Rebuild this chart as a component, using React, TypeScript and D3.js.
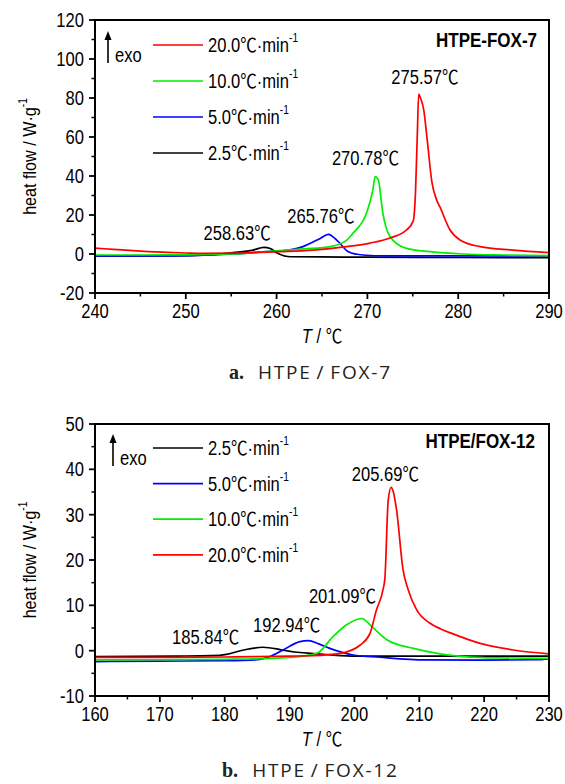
import React from "react";
import * as d3 from "d3";

const W = 565;
const H = 784;
const SX = 0.85;
const FONT = "'Liberation Sans', Arial, 'Noto Sans CJK SC', sans-serif";

type P = [number, number];

// ---------- Panel a: HTPE-FOX-7 ----------
const aRates = ["20.0", "10.0", "5.0", "2.5"];
const aColors = ["#ff0000", "#00ee00", "#0000ff", "#000000"];
const aRed: P[] = [[240, 3], [242, 2.4], [245, 1.5], [248, 0.8], [250, 0.5], [252, 0.3], [255, 0.4], [258, 0.8], [260.4, 1.2], [264, 2], [267.7, 3.8], [270.3, 5.6], [272.5, 8.2], [274.3, 12.3], [275.05, 17], [275.3, 32], [275.5, 62], [275.65, 82], [275.85, 80], [276.2, 74], [276.6, 58], [277.1, 37], [277.6, 28], [278, 24], [279.1, 12.3], [280.2, 7.2], [282.4, 3.8], [286, 2], [290, 0.7]];
const aGreen: P[] = [[240, -0.5], [245, -0.5], [250, -0.4], [255, 0], [258, 0.8], [260.4, 1.7], [263, 2.6], [265.9, 3.8], [267.7, 7], [268.4, 10.6], [269.9, 21], [270.6, 32.8], [270.85, 39.7], [271.2, 38], [271.7, 21], [272.5, 8.9], [274.3, 2.9], [276.9, 1.2], [280.5, 0], [285, -0.5], [290, -0.8]];
const aBlue: P[] = [[240, -1], [245, -1], [250, -0.9], [253, -0.5], [255.2, 0], [258.9, 1.2], [260.4, 1.5], [262.9, 3.8], [264.8, 8], [265.7, 10.1], [266.8, 6.3], [267.9, 1.2], [269.5, -0.5], [272, -1], [280, -1], [290, -1]];
const aBlack: P[] = [[240, -1], [245, -1], [250, -0.8], [253, -0.3], [255.2, 0.7], [257.4, 2], [258.6, 3.4], [259.3, 2.8], [260, 0.7], [261.5, -1.4], [265, -1.5], [270, -1.6], [280, -1.8], [290, -1.9]];
const aSeries = [aRed, aGreen, aBlue, aBlack];
const aPeakT = [275.57, 270.78, 265.76, 258.63];
const aPeakV = [82, 39.7, 10.1, 3.4];

// ---------- Panel b: HTPE/FOX-12 ----------
const bRates = ["2.5", "5.0", "10.0", "20.0"];
const bColors = ["#000000", "#0000ff", "#00ee00", "#ff0000"];
const bBlack: P[] = [[160, -1.3], [172.6, -1.2], [178, -1.1], [180.3, -0.8], [182.9, 0.15], [185.9, 0.75], [188, 0.4], [189, 0.1], [191.6, -0.4], [193.2, -0.6], [196, -0.9], [200.3, -1.2], [210, -1.2], [220, -1.2], [230, -1.2]];
const bBlue: P[] = [[160, -2.4], [170, -2.3], [180, -2.2], [185, -2], [187, -1.3], [189, 0.15], [191.6, 2], [192.9, 2.2], [194.5, 1.5], [196.2, 0.5], [199.8, -0.95], [203.9, -1.45], [211, -2.05], [220, -2.1], [228, -2], [230, -1.8]];
const bGreen: P[] = [[160, -2.05], [170, -2], [180, -1.9], [185, -1.8], [190, -1.5], [194.2, -0.6], [196.7, 3.1], [198.8, 5.7], [201.1, 7.1], [202.7, 5.3], [205, 2.4], [209.1, 0.5], [213.2, -0.7], [216.8, -1.3], [222, -1.6], [230, -1.7]];
const bRed: P[] = [[160, -1.5], [170, -1.5], [180, -1.4], [185, -1.3], [190, -1.2], [193.6, -1.1], [197.8, -0.6], [200.9, 1.25], [202.4, 3.8], [203.4, 9], [204.4, 13.4], [204.7, 16], [205.2, 33], [205.65, 36], [206.0, 35], [206.5, 31], [207.5, 17.8], [208.3, 13.4], [209.6, 9], [211.6, 6.1], [213.3, 4.8], [215.2, 3.7], [219.4, 1.6], [224.5, 0.15], [230, -0.7]];
const bSeries = [bBlack, bBlue, bGreen, bRed];
const bPeakT = [185.84, 192.94, 201.09, 205.69];
const bPeakV = [0.75, 2.2, 7.1, 36];

type Cfg = {
  id: string;
  xDomain: [number, number];
  xStep: number;
  yDomain: [number, number];
  yStep: number;
  yTop: number;
  yBottom: number;
  rates: string[];
  colors: string[];
  series: P[][];
  drawOrder: number[];
  peakT: number[];
  peakV: number[];
  peakOff: [number, number][];
  title: string;
  titleY: number;
  titleX: number;
  legendY0: number;
  legendDY: number;
  arrowX: number;
  capLetter: string;
  capText: string;
  capX: number;
  capY: number;
};

const X0 = 95;
const X1 = 549;

const NT = (props: any) => {
  const { x, y, anchor, size, weight, children, style, rotate } = props;
  return (
    <text
      transform={`translate(${x},${y})${rotate ? ` rotate(${rotate})` : ""} scale(${SX},1)`}
      textAnchor={anchor || "start"}
      fontSize={size || 19.5}
      fontWeight={weight || "normal"}
      fontFamily={FONT}
      fill="#000"
      style={style}
    >
      {children}
    </text>
  );
};

function Panel({ c }: { c: Cfg }) {
  const x = d3.scaleLinear().domain(c.xDomain).range([X0, X1]);
  const y = d3.scaleLinear().domain(c.yDomain).range([c.yBottom, c.yTop]);
  const line = d3
    .line<P>()
    .x((d) => x(d[0]))
    .y((d) => y(d[1]))
    .curve(d3.curveMonotoneX);
  const xMaj = d3.range(c.xDomain[0], c.xDomain[1] + 0.001, c.xStep);
  const xMin = d3.range(c.xDomain[0] + c.xStep / 2, c.xDomain[1], c.xStep);
  const yMaj = d3.range(c.yDomain[0], c.yDomain[1] + 0.001, c.yStep);
  const yMin = d3.range(c.yDomain[0] + c.yStep / 2, c.yDomain[1], c.yStep);
  const cy = (c.yTop + c.yBottom) / 2;
  const cx = (X0 + X1) / 2;
  return (
    <g>
      <defs>
        <clipPath id={c.id}>
          <rect x={X0} y={c.yTop} width={X1 - X0} height={c.yBottom - c.yTop} />
        </clipPath>
      </defs>
      <g clipPath={`url(#${c.id})`}>
        {c.drawOrder.map((i) => (
          <path key={i} d={line(c.series[i]) || ""} fill="none" stroke={c.colors[i]} strokeWidth={1.7} strokeLinejoin="round" />
        ))}
      </g>
      <rect x={X0} y={c.yTop} width={X1 - X0} height={c.yBottom - c.yTop} fill="none" stroke="#000" strokeWidth={2} />
      {xMaj.map((v) => (
        <g key={"xm" + v}>
          <line x1={x(v)} x2={x(v)} y1={c.yBottom} y2={c.yBottom + 6} stroke="#000" strokeWidth={1.8} />
          <NT x={x(v)} y={c.yBottom + 25} anchor="middle">{v}</NT>
        </g>
      ))}
      {xMin.map((v) => (
        <line key={"xn" + v} x1={x(v)} x2={x(v)} y1={c.yBottom} y2={c.yBottom + 3.5} stroke="#000" strokeWidth={1.5} />
      ))}
      {yMaj.map((v) => (
        <g key={"ym" + v}>
          <line x1={X0 - 6} x2={X0} y1={y(v)} y2={y(v)} stroke="#000" strokeWidth={1.8} />
          <NT x={X0 - 11} y={y(v) + 7} anchor="end">{v}</NT>
        </g>
      ))}
      {yMin.map((v) => (
        <line key={"yn" + v} x1={X0 - 3.5} x2={X0} y1={y(v)} y2={y(v)} stroke="#000" strokeWidth={1.5} />
      ))}
      {/* axis titles */}
      <NT x={36} y={cy} anchor="middle" rotate={-90} size={19}>
        heat flow / W·g<tspan fontSize={12} dy={-9}>-1</tspan>
      </NT>
      <NT x={cx} y={c.yBottom + 50} anchor="middle">
        <tspan fontStyle="italic">T</tspan> / ℃
      </NT>
      {/* title */}
      <NT x={c.titleX} y={c.titleY} anchor="end" weight="bold" size={20}>{c.title}</NT>
      {/* exo arrow */}
      <line x1={c.arrowX} x2={c.arrowX} y1={c.legendY0 + 18} y2={c.legendY0 - 8} stroke="#000" strokeWidth={1.6} />
      <path d={`M${c.arrowX - 3.5},${c.legendY0 - 5} L${c.arrowX},${c.legendY0 - 14} L${c.arrowX + 3.5},${c.legendY0 - 5} Z`} fill="#000" />
      <NT x={c.arrowX + 7} y={c.legendY0 + 17} size={19.5}>exo</NT>
      {/* legend */}
      {c.rates.map((r, i) => {
        const ly = c.legendY0 + i * c.legendDY;
        return (
          <g key={"lg" + i}>
            <line x1={153} x2={203} y1={ly} y2={ly} stroke={c.colors[i]} strokeWidth={1.7} />
            <NT x={208} y={ly + 7}>
              {r}℃·min<tspan fontSize={12} dy={-10}>-1</tspan>
            </NT>
          </g>
        );
      })}
      {/* peak labels */}
      {c.peakT.map((t, i) => (
        <NT key={"pk" + i} x={x(t) + c.peakOff[i][0]} y={y(c.peakV[i]) - c.peakOff[i][1]} anchor="middle">
          {t.toFixed(2)}℃
        </NT>
      ))}
      {/* caption */}
      <text x={c.capX} y={c.capY} fontSize={19} fill="#222">
        <tspan fontFamily="'Liberation Serif', 'DejaVu Serif', serif" fontWeight="bold" fontSize={20}>{c.capLetter}</tspan>
        <tspan dx={14} fontFamily="'Open Sans', 'Noto Sans', sans-serif" letterSpacing={1.8}>{c.capText}</tspan>
      </text>
    </g>
  );
}

const cfgA: Cfg = {
  id: "clipA",
  xDomain: [240, 290],
  xStep: 10,
  yDomain: [-20, 120],
  yStep: 20,
  yTop: 20,
  yBottom: 293,
  rates: aRates,
  colors: aColors,
  series: aSeries,
  drawOrder: [3, 2, 1, 0],
  peakT: aPeakT,
  peakV: aPeakV,
  peakOff: [[7, 10], [-9, 12], [-8, 11], [-27, 7]],
  title: "HTPE-FOX-7",
  titleX: 537,
  titleY: 47,
  legendY0: 45,
  legendDY: 36,
  arrowX: 108,
  capLetter: "a.",
  capText: "HTPE\u2009/\u2009FOX-7",
  capX: 229,
  capY: 379,
};

const cfgB: Cfg = {
  id: "clipB",
  xDomain: [160, 230],
  xStep: 10,
  yDomain: [-10, 50],
  yStep: 10,
  yTop: 424,
  yBottom: 696,
  rates: bRates,
  colors: bColors,
  series: bSeries,
  drawOrder: [0, 1, 2, 3],
  peakT: bPeakT,
  peakV: bPeakV,
  peakOff: [[-57, 3], [-22, 9], [-19, 15], [-6, 6]],
  title: "HTPE/FOX-12",
  titleX: 535,
  titleY: 448,
  legendY0: 448,
  legendDY: 35.6,
  arrowX: 113,
  capLetter: "b.",
  capText: "HTPE\u2009/\u2009FOX-12",
  capX: 222,
  capY: 777,
};

export default function App() {
  return (
    <svg
      width={W}
      height={H}
      viewBox={`0 0 ${W} ${H}`}
      style={{ position: "absolute", left: 0, top: 0, background: "#fff" }}
    >
      <rect x={0} y={0} width={W} height={H} fill="#fff" />
      <Panel c={cfgA} />
      <Panel c={cfgB} />
    </svg>
  );
}
